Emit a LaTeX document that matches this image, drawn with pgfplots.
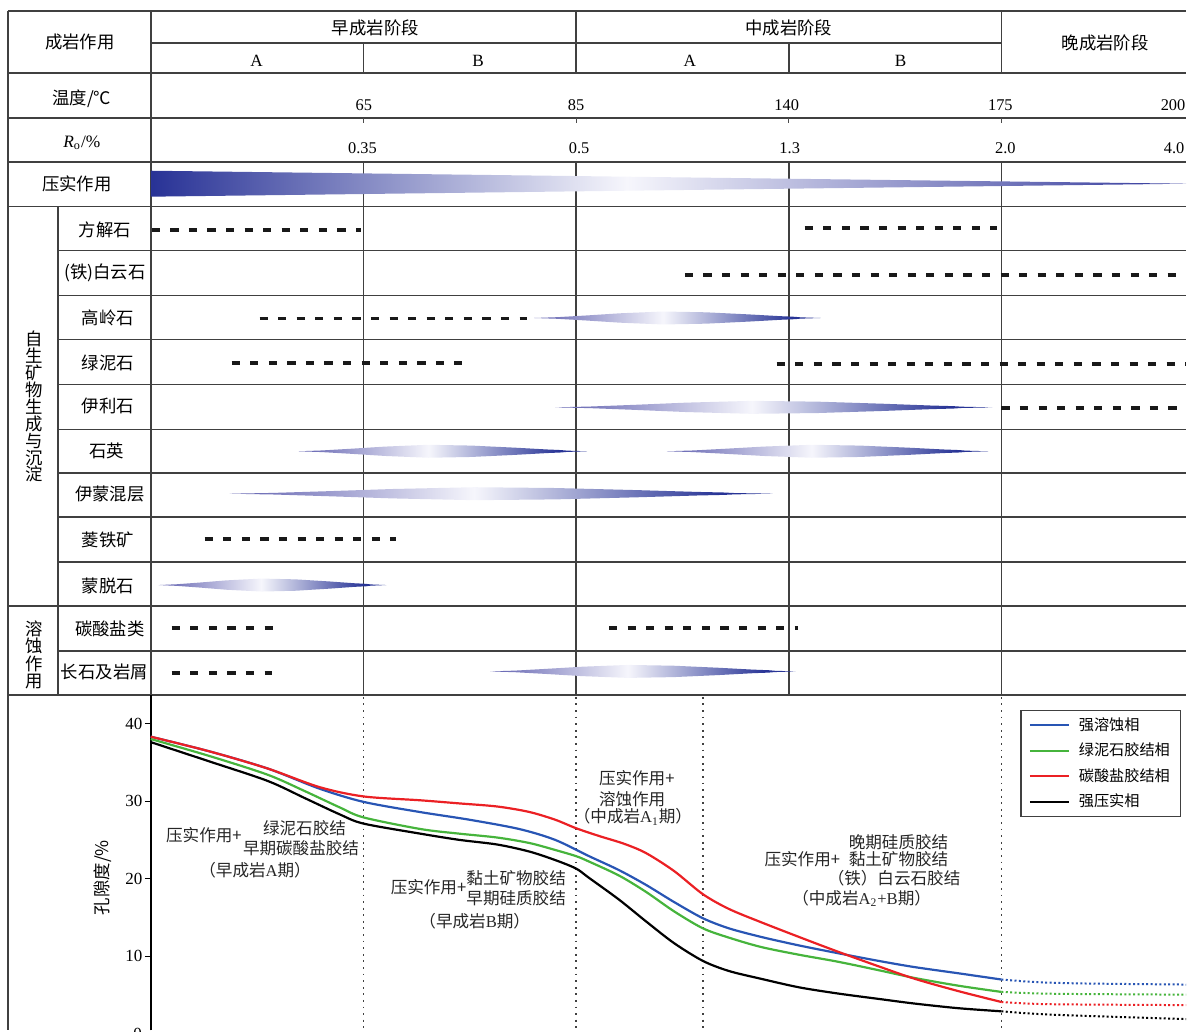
\documentclass[border=0pt]{standalone}
\usepackage{pgfplots}
\pgfplotsset{compat=1.18}
\usepackage{fontspec}
\setmainfont{Liberation Serif}
\newfontfamily\cjk{Noto Sans CJK SC}
\definecolor{lensL}{RGB}{95,95,175}
\definecolor{lensD}{RGB}{40,52,150}
\definecolor{lensW}{RGB}{246,246,252}
\definecolor{pressL}{RGB}{40,50,150}
\definecolor{pressR}{RGB}{50,56,155}
\definecolor{blueC}{RGB}{40,85,180}
\definecolor{greenC}{RGB}{70,180,60}
\definecolor{redC}{RGB}{235,32,36}
\pgfdeclarehorizontalshading{lens}{100bp}{color(0bp)=(lensL); color(25bp)=(lensL); color(47.5bp)=(lensW); color(70bp)=(lensD); color(100bp)=(lensD)}
\pgfdeclarehorizontalshading{press}{100bp}{color(0bp)=(pressL); color(25bp)=(pressL); color(48bp)=(lensW); color(75bp)=(pressR); color(100bp)=(pressR)}
\newcommand\lat[1]{{\rmfamily #1}}
\pgfplotsset{
  dsh/.style={draw=black!90, line width=1.95pt, dash pattern=on 4.1pt off 5.2pt, forget plot},
  lz/.style={draw=none, shade, shading=lens, forget plot},
}
\begin{document}
\begin{tikzpicture}[
  tl/.style={draw=black!75, line width=0.8pt},
  cj/.style={font=\cjk\fontsize{8.7}{9}\selectfont, inner sep=0pt},
  cjs/.style={font=\cjk\fontsize{8.3}{9}\selectfont, inner sep=0pt, text=black!85},
  num/.style={font=\fontsize{8.2}{9}\selectfont, inner sep=0pt},
  dv/.style={draw=black!75, line width=0.7pt, dash pattern=on 0.9pt off 2.4pt}
]
\begin{axis}[at={(0pt,0pt)}, anchor=north west, scale only axis, width=594pt, height=516pt,
  xmin=0, xmax=1188, ymin=0, ymax=1032, y dir=reverse, hide axis, clip=false]
\path (0,0) rectangle (1188,1032);
% grid
\draw[tl] (8,11) -- (1188,11);
\draw[tl] (151,43) -- (1003,43);
\draw[tl] (8,73) -- (1188,73);
\draw[tl] (8,118) -- (1188,118);
\draw[tl] (8,162) -- (1188,162);
\draw[tl] (8,207) -- (1188,207);
\draw[tl] (58,251) -- (1188,251);
\draw[tl] (58,296) -- (1188,296);
\draw[tl] (58,340) -- (1188,340);
\draw[tl] (58,385) -- (1188,385);
\draw[tl] (58,430) -- (1188,430);
\draw[tl] (58,474) -- (1188,474);
\draw[tl] (58,518) -- (1188,518);
\draw[tl] (58,563) -- (1188,563);
\draw[tl] (8,607) -- (1188,607);
\draw[tl] (58,652) -- (1188,652);
\draw[tl] (8,696) -- (1188,696);
\draw[tl] (8,11) -- (8,1032);
\draw[tl] (58,207) -- (58,696);
\draw[tl] (151,11) -- (151,696);
\draw[tl] (364,43) -- (364,73);
\draw[tl] (364,162) -- (364,696);
\draw[tl] (577,11) -- (577,73);
\draw[tl] (577,162) -- (577,696);
\draw[tl] (790,43) -- (790,73);
\draw[tl] (790,162) -- (790,696);
\draw[tl] (1003,11) -- (1003,73);
\draw[tl] (1003,162) -- (1003,696);
\draw[black!70, line width=0.4pt] (364,118) -- (364,123.5);
\draw[black!70, line width=0.4pt] (577,118) -- (577,123.5);
\draw[black!70, line width=0.4pt] (790,118) -- (790,123.5);
\draw[black!70, line width=0.4pt] (1003,118) -- (1003,123.5);
% dotted verticals in porosity panel
\draw[dv] (364,698) -- (364,1032);
\draw[dv] (577,698) -- (577,1032);
\draw[dv] (704,698) -- (704,1032);
\draw[dv] (1003,698) -- (1003,1032);
% header text
\node[cj] at (80,42) {成岩作用};
\node[cj] at (376,28) {早成岩阶段};
\node[cj] at (790,28) {中成岩阶段};
\node[cj] at (1107,43) {晚成岩阶段};
\node[num, font=\fontsize{8.6}{9}\selectfont] at (257,60.5) {A};
\node[num, font=\fontsize{8.6}{9}\selectfont] at (479,60.5) {B};
\node[num, font=\fontsize{8.6}{9}\selectfont] at (691,60.5) {A};
\node[num, font=\fontsize{8.6}{9}\selectfont] at (902,60.5) {B};
\node[cj] at (82,99) {温度/℃};
\node[num, font=\fontsize{8.7}{9}\selectfont] at (82,143) {\textit{R}\textsubscript{o}/\%};
\node[cj] at (77,184) {压实作用};
\node[num] at (364.5,105) {65};
\node[num] at (577,105) {85};
\node[num] at (788,105) {140};
\node[num] at (1002,105) {175};
\node[num] at (1175,105) {200};
\node[num] at (363,148.5) {0.35};
\node[num] at (580,148.5) {0.5};
\node[num] at (791,148.5) {1.3};
\node[num] at (1007,148.5) {2.0};
\node[num] at (1176,148.5) {4.0};
% row labels
\node[cj] at (105,230.5) {方解石};
\node[cj] at (105,273) {(铁)白云石};
\node[cj] at (108,318) {高岭石};
\node[cj] at (108,363) {绿泥石};
\node[cj] at (108,406.7) {伊利石};
\node[cj] at (107,452) {石英};
\node[cj] at (110,495) {伊蒙混层};
\node[cj] at (108,540.7) {菱铁矿};
\node[cj] at (108,586.7) {蒙脱石};
\node[cj] at (110,630) {碳酸盐类};
\node[cj] at (104.5,673.3) {长石及岩屑};
\node[cj, align=center, font=\cjk\fontsize{8.7}{8.45}\selectfont] at (34,407.5) {自\\生\\矿\\物\\生\\成\\与\\沉\\淀};
\node[cj, align=center, font=\cjk\fontsize{8.7}{8.6}\selectfont] at (34,656) {溶\\蚀\\作\\用};
\node[overlay, num, font=\fontsize{8.5}{9}\selectfont, anchor=east] at (142.6,1035.5) {0};
% compaction wedge
\addplot[draw=none, shade, shading=press, forget plot] coordinates {(151,171)(1188,184)(151,197)} -- cycle;
% lenses
\addplot[lz] coordinates {(535,318.5)(558,317.7)(587,316)(621,313.8)(664,312)(707,312.8)(750,314.9)(782,316.7)(796,317.3)(802,317.85)(822,318.5)(802,319.15)(796,319.7)(782,320.3)(750,322.1)(707,324.2)(664,325)(621,323.2)(587,321)(558,319.3)} -- cycle;
\addplot[lz] coordinates {(556,408)(591,407.2)(635,405.5)(687,403.3)(753,401.5)(819,402.3)(885,404.4)(933,406.2)(955,406.8)(963,407.35)(994,408)(963,408.65)(955,409.2)(933,409.8)(885,411.6)(819,413.7)(753,414.5)(687,412.7)(635,410.5)(591,408.8)} -- cycle;
\addplot[lz] coordinates {(299,452)(322,451.2)(351,449.5)(386,447.3)(429,445.5)(472,446.3)(516,448.4)(548,450.2)(562,450.8)(568,451.35)(588,452)(568,452.65)(562,453.2)(548,453.8)(516,455.6)(472,457.7)(429,458.5)(386,456.7)(351,454.5)(322,452.8)} -- cycle;
\addplot[lz] coordinates {(668,452)(694,451.2)(726,449.5)(765,447.3)(813,445.5)(861,446.3)(910,448.4)(945,450.2)(961,450.8)(967,451.35)(990,452)(967,452.65)(961,453.2)(945,453.8)(910,455.6)(861,457.7)(813,458.5)(765,456.7)(726,454.5)(694,452.8)} -- cycle;
\addplot[lz] coordinates {(230,494.5)(274,493.7)(328,492)(393,489.8)(475,488)(556,488.8)(638,490.9)(698,492.7)(725,493.3)(736,493.85)(774,494.5)(736,495.15)(725,495.7)(698,496.3)(638,498.1)(556,500.2)(475,501)(393,499.2)(328,497)(274,495.3)} -- cycle;
\addplot[lz] coordinates {(159,586)(177,585.2)(200,583.5)(227,581.3)(262,579.5)(296,580.3)(330,582.4)(355,584.2)(367,584.8)(371,585.35)(387,586)(371,586.65)(367,587.2)(355,587.8)(330,589.6)(296,591.7)(262,592.5)(227,590.7)(200,588.5)(177,586.8)} -- cycle;
\addplot[lz] coordinates {(491,672.5)(516,671.7)(546,670)(583,667.8)(629,666)(675,666.8)(721,668.9)(754,670.7)(770,671.3)(776,671.85)(797,672.5)(776,673.15)(770,673.7)(754,674.3)(721,676.1)(675,678.2)(629,679)(583,677.2)(546,675)(516,673.3)} -- cycle;
% dashed ranges
\addplot[dsh] coordinates {(152,230)(362,230)};
\addplot[dsh] coordinates {(806,228.7)(999,228.7)};
\addplot[dsh] coordinates {(686,275.3)(1188,275.3)};
\addplot[dsh] coordinates {(260,319)(528,319)};
\addplot[dsh] coordinates {(232,363.7)(463,363.7)};
\addplot[dsh] coordinates {(778,364.7)(1188,364.7)};
\addplot[dsh] coordinates {(1003,408.3)(1188,408.3)};
\addplot[dsh] coordinates {(205,540.3)(397,540.3)};
\addplot[dsh] coordinates {(172,629.3)(273,629.3)};
\addplot[dsh] coordinates {(610,629.3)(799,629.3)};
\addplot[dsh] coordinates {(172,673.7)(272,673.7)};
% porosity panel texts
\node[cj, rotate=90] at (103,879) {孔隙度/\%};
\node[cjs, anchor=west] at (166,836.7) {压实作用+};
\node[cjs] at (305,830) {绿泥石胶结};
\node[cjs] at (301.5,850) {早期碳酸盐胶结};
\node[cjs] at (255.5,871.7) {（早成岩\lat{A}期）};
\node[cjs, anchor=west] at (391,888.3) {压实作用+};
\node[cjs] at (517,880) {黏土矿物胶结};
\node[cjs] at (517,899.3) {早期硅质胶结};
\node[cjs] at (475.5,923) {（早成岩\lat{B}期）};
\node[cjs, anchor=west] at (599.6,779.3) {压实作用+};
\node[cjs, anchor=west] at (599.6,800) {溶蚀作用};
\node[cjs] at (634,818.3) {（中成岩\lat{A\textsubscript{1}}期）};
\node[cjs] at (900,844) {晚期硅质胶结};
\node[cjs, anchor=west] at (765.4,860.7) {压实作用+};
\node[cjs] at (900,860.7) {黏土矿物胶结};
\node[cjs] at (895.5,879.3) {（铁）白云石胶结};
\node[cjs] at (863,900) {（中成岩\lat{A\textsubscript{2}+B}期）};
\end{axis}
\begin{axis}[at={(75.5pt,-348pt)}, anchor=north west, scale only axis,
  width=518.5pt, height=168pt, xmin=151, xmax=1188, ymin=0.45, ymax=43.69,
  axis x line=none, axis y line*=left, y axis line style={line width=0.8pt, black, -},
  ytick={10,20,30,40}, tick align=outside, major tick length=3pt,
  tick style={line width=0.5pt, black},
  yticklabel style={font=\fontsize{8.5}{9}\selectfont, inner sep=1pt},
  /pgf/number format/assume math mode=true, clip=false,
  legend style={at={(axis cs:1022,41.76)}, anchor=north west, draw=black!75, line width=0.6pt,
    fill=white, font=\cjk\fontsize{7.6}{9}\selectfont, inner xsep=4pt, inner ysep=2pt,
    row sep=1.8pt, column sep=3pt, nodes={inner sep=1.5pt}},
  legend cell align=left,
  legend image code/.code={\draw[#1, line width=1pt] (0pt,0pt) -- (19.5pt,0pt);}
]
\addplot[blueC, line width=1.1pt, smooth] coordinates {(151,38.3)(210,36.4)(268,34.2)(320,31.6)(364,29.9)(420,28.6)(470,27.6)(520,26.4)(556,25.0)(590,22.9)(620,21.1)(647,19.2)(675,17.0)(704,14.9)(730,13.6)(762,12.5)(800,11.4)(839,10.4)(880,9.4)(916,8.6)(960,7.8)(1003,7.0)};
\addlegendentry{强溶蚀相}
\addplot[greenC, line width=1.1pt, smooth] coordinates {(151,38.0)(210,35.8)(268,33.4)(305,31.3)(340,29.2)(364,27.9)(421,26.4)(460,25.8)(498,25.3)(530,24.6)(556,23.7)(577,22.9)(590,22.2)(620,20.4)(647,18.3)(675,15.8)(704,13.6)(730,12.4)(762,11.2)(800,10.2)(839,9.3)(880,8.2)(916,7.2)(960,6.2)(1003,5.4)};
\addlegendentry{绿泥石胶结相}
\addplot[redC, line width=1.1pt, smooth] coordinates {(151,38.3)(210,36.4)(268,34.2)(320,31.8)(364,30.6)(421,30.1)(460,29.7)(498,29.3)(530,28.6)(556,27.6)(577,26.5)(600,25.5)(625,24.5)(647,23.3)(675,21.0)(704,18.0)(730,16.1)(762,14.4)(800,12.5)(839,10.6)(880,8.7)(916,7.1)(960,5.5)(1003,4.1)};
\addlegendentry{碳酸盐胶结相}
\addplot[black, line width=1.1pt, smooth] coordinates {(151,37.6)(210,35.1)(268,32.6)(305,30.4)(340,28.3)(364,27.1)(421,25.8)(460,25.0)(498,24.4)(530,23.5)(556,22.4)(577,21.3)(590,20.1)(620,17.3)(647,14.5)(675,11.7)(704,9.4)(730,8.1)(762,7.1)(800,6.0)(839,5.2)(880,4.5)(916,3.9)(960,3.3)(1003,2.9)};
\addlegendentry{强压实相}
\addplot[blueC, line width=1pt, dash pattern=on 1pt off 1.2pt, smooth, forget plot] coordinates {(1003,7.0)(1040,6.65)(1090,6.48)(1188,6.35)};
\addplot[greenC, line width=1pt, dash pattern=on 1pt off 1.2pt, smooth, forget plot] coordinates {(1003,5.4)(1040,5.2)(1090,5.12)(1188,5.05)};
\addplot[redC, line width=1pt, dash pattern=on 1pt off 1.2pt, smooth, forget plot] coordinates {(1003,4.1)(1040,3.85)(1090,3.77)(1188,3.7)};
\addplot[black, line width=1pt, dash pattern=on 1pt off 1.2pt, smooth, forget plot] coordinates {(1003,2.9)(1040,2.55)(1090,2.3)(1188,1.9)};
\end{axis}
\end{tikzpicture}
\end{document}
